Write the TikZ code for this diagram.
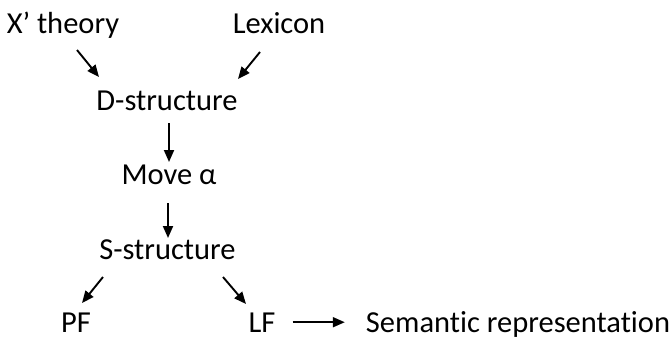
\documentclass[tikz,border=0pt]{standalone}
\usepackage{fontspec}
\setmainfont{Carlito}[RawFeature=-liga]
\usetikzlibrary{arrows.meta}

\tikzset{
    label text/.style={anchor=base, inner sep=0pt, font=\fontsize{30.5}{36}\selectfont},
    arr/.style={-{Triangle[length=12pt,width=10pt]}, line width=1.9pt}
}

\begin{document}
\begin{tikzpicture}[x=1pt, y=1pt]
    \useasboundingbox (0,0) rectangle (671,-340);
    \node[label text] (xbar) at (63, -33) {X’ theory};
    \node[label text] (lexicon) at (279, -33) {Lexicon};
    \node[label text] (dstruct) at (167, -110) {D-structure};
    \node[label text] (move) at (169, -184) {Move α};
    \node[label text] (sstruct) at (167.5, -259) {S-structure};
    \node[label text] (pf) at (76, -332) {PF};
    \node[label text] (lf) at (262, -332) {LF};
    \node[label text] (semantic) at (518, -332) {Semantic representation};

    \draw[arr] ([shift={(14,-17)}]xbar.base) -- ([shift={(-68,33)}]dstruct.base);
    \draw[arr] ([shift={(-19,-19)}]lexicon.base) -- ([shift={(71,31)}]dstruct.base);
    \draw[arr] ([shift={(2,-13)}]dstruct.base) -- ([shift={(0,22)}]move.base);
    \draw[arr] ([shift={(-1,-19)}]move.base) -- ([shift={(0.5,21)}]sstruct.base);
    \draw[arr] ([shift={(-64.5,-18)}]sstruct.base) -- ([shift={(6,29)}]pf.base);
    \draw[arr] ([shift={(55.5,-18)}]sstruct.base) -- ([shift={(-16,28)}]lf.base);
    \draw[arr] ([xshift=17pt]lf.east) -- ([xshift=-21pt]lf.east -| semantic.west);

\end{tikzpicture}
\end{document}
